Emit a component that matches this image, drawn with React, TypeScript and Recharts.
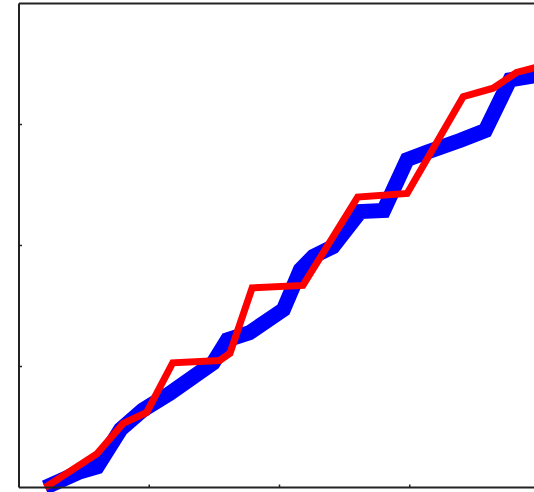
import { LineChart, Line, XAxis, YAxis } from 'recharts';

// blue (thick) trace
const blueX = [2.0, 4.7, 6.0, 7.8, 9.5, 11.6, 14.9, 16.0, 17.7, 20.3, 21.6, 22.6, 24.1, 26.2, 28.0, 29.8, 31.3, 33.9, 35.8, 37.7, 40.0];
const blueY = [0.0, 1.3, 1.7, 4.8, 6.4, 7.8, 10.3, 12.2, 12.8, 14.7, 18.0, 19.1, 19.9, 22.8, 22.9, 27.1, 27.7, 28.7, 29.5, 33.7, 34.1];

// red (thin) trace
const redX = [2.0, 6.0, 8.0, 9.8, 11.8, 15.4, 16.2, 17.9, 21.8, 26.0, 29.8, 34.1, 36.4, 38.2, 40.0];
const redY = [0.0, 2.8, 5.3, 6.2, 10.3, 10.5, 11.1, 16.5, 16.7, 24.0, 24.3, 32.3, 33.0, 34.3, 34.8];

const xTicks = [10, 20, 30];
const yTicks = [10, 20, 30];

const blueData = blueX.map((x, i) => ({ x, y: blueY[i] }));
const redData = redX.map((x, i) => ({ x, y: redY[i] }));

const axisProps = {
  type: 'number' as const,
  domain: [0, 40],
  mirror: true,
  tickSize: 3,
  tickFormatter: () => '',
  axisLine: { stroke: '#222', strokeWidth: 2 },
  tickLine: { stroke: '#222', strokeWidth: 1.5 },
  interval: 0 as const,
};

export default function App() {
  return (
    <div style={{ position: 'absolute', left: 0, top: 0, width: 534, height: 492, overflow: 'hidden', background: '#fff' }}>
      <LineChart width={560} height={492} margin={{ top: 3.5, right: 20, bottom: 4.5, left: 19 }}>
        <XAxis dataKey="x" xAxisId={0} orientation="bottom" ticks={xTicks} {...axisProps} />
        <XAxis dataKey="x" xAxisId="top" orientation="top" ticks={xTicks} {...axisProps} />
        <YAxis dataKey="y" yAxisId={0} orientation="left" ticks={yTicks} {...axisProps} />
        <YAxis dataKey="y" yAxisId="right" orientation="right" ticks={yTicks} {...axisProps} />
        <Line data={blueData} dataKey="y" xAxisId={0} yAxisId={0} type="linear" stroke="#0000ff" strokeWidth={15} dot={false} isAnimationActive={false} />
        <Line data={redData} dataKey="y" xAxisId={0} yAxisId={0} type="linear" stroke="#ff0000" strokeWidth={7} dot={false} isAnimationActive={false} />
      </LineChart>
    </div>
  );
}
